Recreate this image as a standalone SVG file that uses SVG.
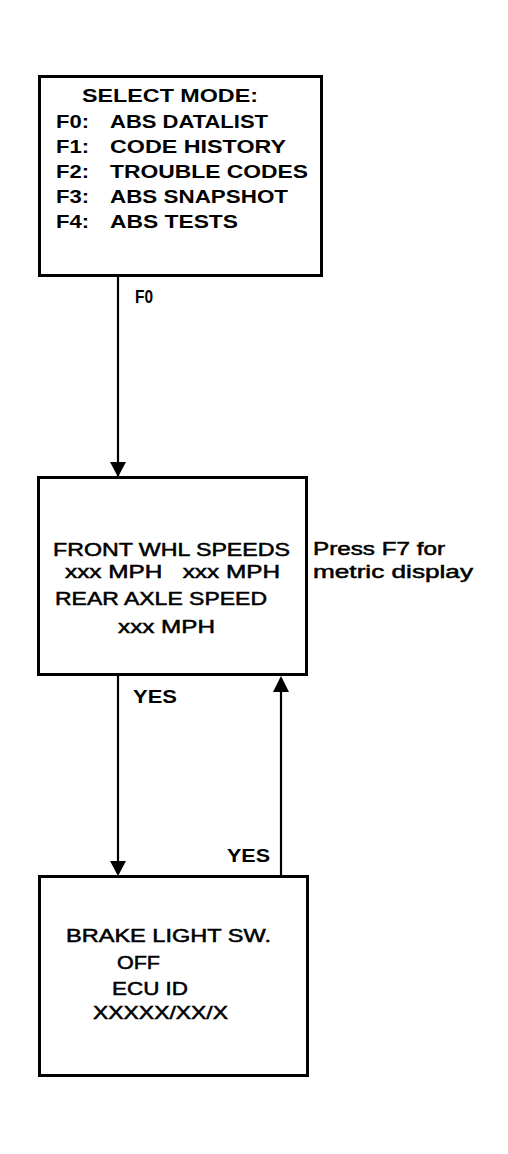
<svg xmlns="http://www.w3.org/2000/svg" width="508" height="1154" viewBox="0 0 508 1154">
<style>
.box{fill:#fff;stroke:#000;stroke-width:3}
.t{font-family:"Liberation Sans",Arial,sans-serif;font-size:18px;fill:#000}
.b{font-weight:bold}
.m{stroke:#000;stroke-width:0.5}
.line{stroke:#000;stroke-width:2.2;fill:none}
</style>
<rect width="508" height="1154" fill="#fff"/>
<g id="connectors">
<line class="line" x1="118" y1="276" x2="118" y2="476"/>
<path d="M110 462 L126 462 L118 477 Z" fill="#000"/>
<line class="line" x1="118" y1="675" x2="118" y2="874"/>
<path d="M110 861 L126 861 L118 876 Z" fill="#000"/>
<line class="line" x1="281" y1="875" x2="281" y2="678"/>
<path d="M273 692 L289 692 L281 676 Z" fill="#000"/>
<text class="t b" x="135" y="303" textLength="18" lengthAdjust="spacingAndGlyphs">F0</text>
<text class="t b" x="133" y="703" textLength="44" lengthAdjust="spacingAndGlyphs">YES</text>
<text class="t b" x="227" y="862" textLength="43" lengthAdjust="spacingAndGlyphs">YES</text>
</g>
<g id="select-mode">
<rect class="box" x="39.5" y="76.5" width="282" height="199"/>
<text class="t b" x="82" y="102" textLength="176" lengthAdjust="spacingAndGlyphs">SELECT MODE:</text>
<text class="t b" x="56" y="128" textLength="33" lengthAdjust="spacingAndGlyphs">F0:</text>
<text class="t b" x="110" y="128" textLength="158" lengthAdjust="spacingAndGlyphs">ABS DATALIST</text>
<text class="t b" x="56" y="153" textLength="33" lengthAdjust="spacingAndGlyphs">F1:</text>
<text class="t b" x="110" y="153" textLength="176" lengthAdjust="spacingAndGlyphs">CODE HISTORY</text>
<text class="t b" x="56" y="178" textLength="33" lengthAdjust="spacingAndGlyphs">F2:</text>
<text class="t b" x="110" y="178" textLength="198" lengthAdjust="spacingAndGlyphs">TROUBLE CODES</text>
<text class="t b" x="56" y="203" textLength="33" lengthAdjust="spacingAndGlyphs">F3:</text>
<text class="t b" x="110" y="203" textLength="178" lengthAdjust="spacingAndGlyphs">ABS SNAPSHOT</text>
<text class="t b" x="56" y="228" textLength="33" lengthAdjust="spacingAndGlyphs">F4:</text>
<text class="t b" x="110" y="228" textLength="128" lengthAdjust="spacingAndGlyphs">ABS TESTS</text>
</g>
<g id="wheel-speeds">
<rect class="box" x="38.5" y="477.5" width="268" height="197"/>
<text class="t m" x="53" y="556" textLength="237" lengthAdjust="spacingAndGlyphs">FRONT WHL SPEEDS</text>
<text class="t m" x="65" y="578" textLength="215" lengthAdjust="spacingAndGlyphs" xml:space="preserve">xxx MPH   xxx MPH</text>
<text class="t m" x="55" y="605" textLength="212" lengthAdjust="spacingAndGlyphs">REAR AXLE SPEED</text>
<text class="t m" x="118" y="633" textLength="97" lengthAdjust="spacingAndGlyphs">xxx MPH</text>
</g>
<g id="note">
<text class="t m" x="313" y="555" textLength="132" lengthAdjust="spacingAndGlyphs">Press F7 for</text>
<text class="t m" x="313" y="578" textLength="160" lengthAdjust="spacingAndGlyphs">metric display</text>
</g>
<g id="brake-light">
<rect class="box" x="39.5" y="876.5" width="268" height="199"/>
<text class="t m" x="66" y="942" textLength="205" lengthAdjust="spacingAndGlyphs">BRAKE LIGHT SW.</text>
<text class="t m" x="117" y="969" textLength="43" lengthAdjust="spacingAndGlyphs">OFF</text>
<text class="t m" x="112" y="995" textLength="76" lengthAdjust="spacingAndGlyphs">ECU ID</text>
<text class="t m" x="93" y="1019" textLength="135" lengthAdjust="spacingAndGlyphs">XXXXX/XX/X</text>
</g>
</svg>
